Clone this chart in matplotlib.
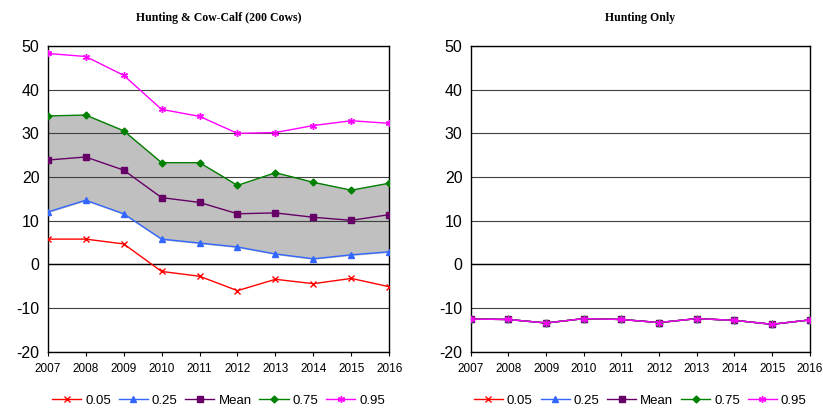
import matplotlib.pyplot as plt
import numpy as np

plt.rcParams['font.family'] = ['Liberation Sans', 'DejaVu Sans']
plt.rcParams['axes.unicode_minus'] = False

years = [2007, 2008, 2009, 2010, 2011, 2012, 2013, 2014, 2015, 2016]
labels = ['0.05', '0.25', 'Mean', '0.75', '0.95']

# Hunting & Cow-Calf
combo_p05 = [5.8, 5.8, 4.7, -1.6, -2.7, -6.0, -3.4, -4.4, -3.2, -5.1]
combo_p25 = [12.0, 14.7, 11.6, 5.8, 4.9, 4.0, 2.4, 1.3, 2.2, 2.9]
combo_mean = [23.9, 24.6, 21.6, 15.3, 14.2, 11.6, 11.8, 10.8, 10.1, 11.4]
combo_p75 = [34.0, 34.2, 30.6, 23.3, 23.3, 18.1, 21.0, 18.8, 17.0, 18.6]
combo_p95 = [48.3, 47.6, 43.3, 35.5, 33.9, 30.0, 30.2, 31.8, 32.9, 32.3]

# Hunting only
hunt_p05 = [-12.5, -12.6, -13.4, -12.4, -12.6, -13.3, -12.4, -12.8, -13.7, -12.7]
hunt_p25 = [-12.5, -12.6, -13.4, -12.4, -12.6, -13.3, -12.4, -12.8, -13.7, -12.7]
hunt_mean = [-12.5, -12.6, -13.4, -12.4, -12.6, -13.3, -12.4, -12.8, -13.7, -12.7]
hunt_p75 = [-12.5, -12.6, -13.4, -12.4, -12.6, -13.3, -12.4, -12.8, -13.7, -12.7]
hunt_p95 = [-12.5, -12.6, -13.4, -12.4, -12.6, -13.3, -12.4, -12.8, -13.7, -12.7]

colors = ['#ff0000', '#3366ff', '#660066', '#008000', '#ff00ff']
markers = ['x', '^', 's', 'D', (6, 2, 0)]
msizes = [4, 5, 4.5, 3.5, 5]

fig = plt.figure(figsize=(8.23, 4.11), dpi=100)
ax1 = fig.add_axes([0.058, 0.144, 0.415, 0.744])
ax2 = fig.add_axes([0.572, 0.144, 0.412, 0.744])


def draw(ax, series, title, fill):
    if fill:
        ax.fill_between(years, series[1], series[3], color='#c0c0c0', zorder=1)
    for vals, c, m, ms, lab in zip(series, colors, markers, msizes, labels):
        ax.plot(years, vals, color=c, marker=m, markersize=ms, linewidth=1,
                label=lab, zorder=3)
    ax.set_xlim(2007, 2016)
    ax.set_ylim(-20, 50)
    ax.set_yticks(np.arange(-20, 51, 10))
    ax.set_xticks(years)
    ax.grid(axis='y', color='#404040', linewidth=0.8, zorder=2)
    ax.axhline(0, color='black', linewidth=1, zorder=2)
    ax.tick_params(axis='y', labelsize=11.5, length=0, pad=6)
    ax.tick_params(axis='x', labelsize=8.5, direction='out', length=3, pad=5)
    for s in ax.spines.values():
        s.set_color('black')
        s.set_linewidth(1)
    ax.set_title(title, fontfamily='Liberation Serif', fontweight='bold',
                 fontsize=8.5, pad=18)
    ax.legend(loc='upper center', bbox_to_anchor=(0.5, -0.1), ncol=5,
              frameon=False, fontsize=9.5, handlelength=2.2, columnspacing=0.6,
              handletextpad=0.3)


draw(ax1, [combo_p05, combo_p25, combo_mean, combo_p75, combo_p95],
     'Hunting & Cow-Calf (200 Cows)', True)
draw(ax2, [hunt_p05, hunt_p25, hunt_mean, hunt_p75, hunt_p95],
     'Hunting Only', False)

fig.savefig('out.png', dpi=100)
